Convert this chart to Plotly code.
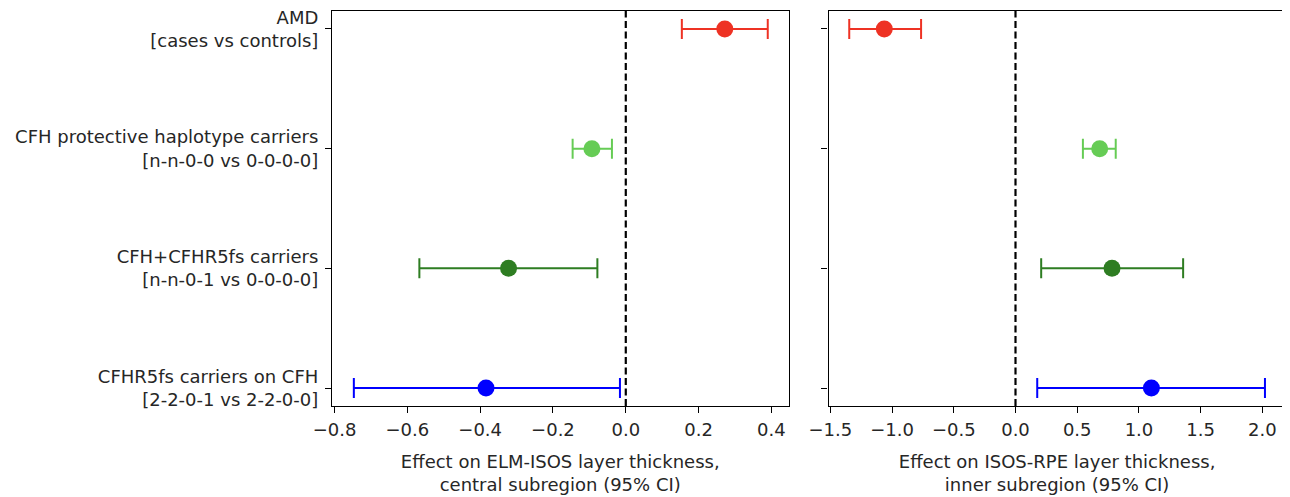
import plotly.graph_objects as go

categories = [
    "AMD<br>[cases vs controls]",
    "CFH protective haplotype carriers<br>[n-n-0-0 vs 0-0-0-0]",
    "CFH+CFHR5fs carriers<br>[n-n-0-1 vs 0-0-0-0]",
    "CFHR5fs carriers on CFH<br>[2-2-0-1 vs 2-2-0-0]",
]
colors = ["#EE3224", "#66CC55", "#2E7D22", "#0000FF"]

# Left panel: ELM-ISOS, central subregion
elm_est = [0.272, -0.093, -0.322, -0.384]
elm_lo = [0.154, -0.146, -0.567, -0.747]
elm_hi = [0.390, -0.038, -0.078, -0.016]

# Right panel: ISOS-RPE, inner subregion
isos_est = [-1.063, 0.682, 0.782, 1.101]
isos_lo = [-1.347, 0.546, 0.208, 0.176]
isos_hi = [-0.765, 0.812, 1.358, 2.021]

ypos = [0, 1, 2, 3]

OFF = 8  # page body margin
W, H = 1290 - OFF, 497 - OFF
fig = go.Figure()

font_family = "DejaVu Sans"
text_color = "#262626"
FS = 18

def add_panel(est, lo, hi, xa, ya):
    for i in range(len(est)):
        fig.add_trace(go.Scatter(
            x=[est[i]], y=[ypos[i]], mode="markers",
            marker=dict(color=colors[i], size=17, symbol="circle"),
            error_x=dict(type="data", symmetric=False,
                         array=[hi[i] - est[i]], arrayminus=[est[i] - lo[i]],
                         color=colors[i], thickness=2.0, width=10),
            xaxis=xa, yaxis=ya, showlegend=False, hoverinfo="skip",
        ))

add_panel(elm_est, elm_lo, elm_hi, "x", "y")
add_panel(isos_est, isos_lo, isos_hi, "x2", "y2")

common_axis = dict(showline=True, linecolor="black", linewidth=1.2, mirror=True,
                   ticks="outside", ticklen=6, tickwidth=1.2, tickcolor="black",
                   showgrid=False, zeroline=False, automargin=False,
                   ticklabeloverflow="allow",
                   tickfont=dict(family=font_family, size=FS, color=text_color))

plot_top, plot_bottom = 11 - OFF, 406 - OFF

fig.update_layout(
    template="none",
    width=W, height=H,
    margin=dict(l=0, r=0, t=plot_top, b=H - plot_bottom, pad=0),
    plot_bgcolor="white", paper_bgcolor="white",
    font=dict(family=font_family, size=FS, color=text_color),
    xaxis=dict(domain=[(332 - OFF) / W, (788.5 - OFF) / W], range=[-0.807, 0.447],
               tickvals=[-0.8, -0.6, -0.4, -0.2, 0.0, 0.2, 0.4], tickformat=".1f",
               ticklabelstandoff=1,
               title=dict(text="Effect on ELM-ISOS layer thickness,<br>central subregion (95% CI)",
                          font=dict(family=font_family, size=FS, color=text_color), standoff=16),
               anchor="y", **common_axis),
    yaxis=dict(domain=[0, 1], range=[3.15, -0.15], tickvals=ypos, ticktext=categories,
               ticklabelstandoff=3, anchor="x", **common_axis),
    xaxis2=dict(domain=[(828.5 - OFF) / W, (1285.7 - OFF) / W], range=[-1.515, 2.189],
                tickvals=[-1.5, -1.0, -0.5, 0.0, 0.5, 1.0, 1.5, 2.0], tickformat=".1f",
                ticklabelstandoff=1,
                title=dict(text="Effect on ISOS-RPE layer thickness,<br>inner subregion (95% CI)",
                           font=dict(family=font_family, size=FS, color=text_color), standoff=16),
                anchor="y2", **common_axis),
    yaxis2=dict(domain=[0, 1], range=[3.15, -0.15], tickvals=ypos, showticklabels=False,
                anchor="x2", **common_axis),
)

for xr in ["x", "x2"]:
    fig.add_shape(type="line", xref=xr, yref="paper", x0=0, x1=0, y0=0, y1=1,
                  line=dict(color="black", width=2.2, dash="7px,3.5px"), layer="above")

fig.write_html("out.html")
